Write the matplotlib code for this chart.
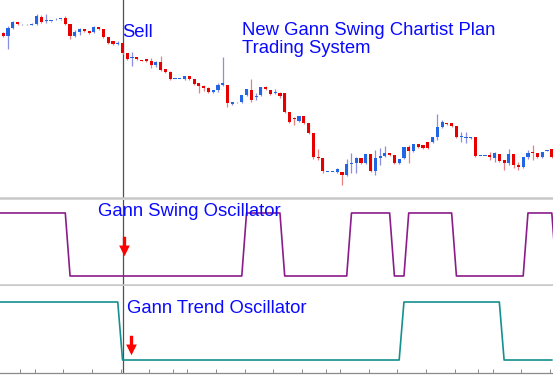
import numpy as np
import matplotlib
matplotlib.use("Agg")
import matplotlib.pyplot as plt
from matplotlib.path import Path

plt.rcParams['font.family'] = ['Liberation Sans', 'DejaVu Sans']

# candle data, one bar per entry
opens = [167, 164, 172, 178, 175.7, 175.7, 175.5, 176, 183.3, 179,
         179, 180.7, 181, 182, 176, 164, 168, 171, 169, 168,
         173, 171, 163, 159, 156.5, 157, 147, 142, 143, 140,
         141, 139.3, 135, 138, 131, 128, 121, 121, 121, 124,
         121, 117, 114, 112, 108, 110, 115, 115, 96, 97.7,
         98, 105, 110, 103.5, 105, 113.5, 110, 107, 107.3, 107,
         88, 82, 79, 84, 77, 67, 43, 42, 28, 28,
         28, 28, 25, 36.5, 37, 42, 37, 46, 29, 42,
         44, 47, 45, 37, 42, 53, 49, 56, 55, 58,
         58, 63, 73, 77, 77, 74, 63, 62.5, 62, 63,
         44, 44, 45, 42, 46, 40, 37, 46, 35, 33,
         43, 48, 47, 43, 49.5, 51]
highs = [168, 174, 179, 178.5, 176, 176, 177, 186, 185, 186,
         179.5, 182.3, 181.5, 184, 176.5, 170, 172, 171.5, 169.5, 174,
         173.5, 171.5, 163.5, 159.5, 159, 157.5, 147.5, 148, 143.5, 140.5,
         141.5, 142, 139.3, 144, 131.5, 129.3, 121.3, 121.3, 124.5, 124.5,
         121.5, 117.5, 115, 112.7, 110.5, 116.7, 143, 115.5, 98.5, 98.3,
         105.5, 111.5, 121, 107, 113.5, 114, 110.5, 110.7, 108.3, 107.5,
         88.5, 83, 84.5, 84.5, 77.5, 67.5, 51, 42.5, 28.3, 28.3,
         32, 28.5, 40.7, 47, 43.3, 42.5, 46.5, 46.5, 50, 51.7,
         54, 47.5, 45.5, 41.5, 53.5, 55, 56.5, 56.5, 55.5, 58.5,
         63.5, 86, 80, 77.5, 77.5, 74.5, 68.3, 68.3, 63.5, 63.5,
         44.3, 44.3, 48.3, 48.3, 46.5, 40.5, 50.7, 46.5, 38.3, 43.5,
         50, 55, 47.5, 48.5, 50.5, 51.5]
lows = [163.3, 151, 171.5, 175.5, 175.4, 175.4, 175, 175.5, 176.7, 176.7,
        178.5, 180, 180.5, 174.7, 160.7, 162.7, 165, 168.5, 166.5, 166.7,
        170.5, 162.5, 155.7, 155.5, 155, 146, 140, 134, 140.5, 139,
        138.5, 132, 133.3, 129, 127.5, 120.5, 120.7, 120.7, 120.5, 120.5,
        115, 107, 109.3, 106.7, 107.5, 108.3, 114.5, 93, 95, 97.3,
        97.5, 104.5, 98, 100, 104.5, 110.5, 105.5, 106, 101.7, 87.5,
        76.7, 75, 78.5, 76.5, 66.5, 41, 40, 27, 27.7, 27.7,
        27.5, 15, 24, 27, 26.7, 36.5, 36.5, 28.5, 25, 35,
        43.3, 44.5, 36.5, 36.5, 41.5, 37.3, 48.5, 52.5, 51.5, 51.5,
        57.5, 60, 72.5, 75.5, 73.5, 62.5, 58.3, 56.7, 61.5, 43.5,
        43.7, 43.7, 40, 38.3, 38.5, 30, 35, 31.7, 30, 32.5,
        40.7, 40, 42.5, 42.5, 49, 42.5]
closes = [164.3, 172, 178, 176, 175.7, 175.7, 176, 184, 178.3, 179.5,
          179, 181, 181, 176, 164, 168, 171, 169, 167, 173,
          171, 163, 157, 156, 157, 147, 141, 142.5, 141, 139.5,
          139, 135, 138, 130, 128, 121, 121, 121, 124, 121,
          116, 114, 112, 108, 110, 115, 117, 97, 98, 98,
          105, 111, 100, 104.5, 113, 111, 106, 107.5, 104, 88,
          78, 81, 84, 77, 67, 43, 42, 29, 28, 28,
          31.5, 25, 36, 37, 42, 37, 46, 29, 42, 44,
          47, 45, 37, 41, 53, 49, 56, 53, 52, 52,
          63, 73, 78, 76, 74, 63, 64, 63, 63, 44,
          44, 44, 43, 47, 39, 37, 46, 35, 33, 43,
          47, 47, 43, 48, 50, 43]

# Gann swing oscillator state per bar (first/last values lie just past the edges)
swing_start = -1
swing = [1, 1, 1, 1, 1, 1, 1, 1, 1, 1, 1, 1, 1, 1, 1,
         0, 0, 0, 0, 0, 0, 0, 0, 0, 0, 0, 0, 0, 0, 0, 0, 0, 0, 0,
         0, 0, 0, 0, 0, 0, 0, 0, 0, 0, 0, 0, 0, 0, 0, 0, 0, 0,
         1, 1, 1, 1, 1, 1, 1, 1,
         0, 0, 0, 0, 0, 0, 0, 0, 0, 0, 0, 0, 0, 0,
         1, 1, 1, 1, 1, 1, 1, 1, 1,
         0, 0, 0,
         1, 1, 1, 1, 1, 1, 1, 1, 1, 1,
         0, 0, 0, 0, 0, 0, 0, 0, 0, 0, 0, 0, 0, 0, 0,
         1, 1, 1, 1, 1, 1,
         0]
# Gann trend oscillator state per bar
trend_start = -1
trend = [1, 1, 1, 1, 1, 1, 1, 1, 1, 1, 1, 1, 1, 1, 1, 1, 1, 1, 1, 1,
         1, 1, 1, 1, 1, 1,
         0, 0, 0, 0, 0, 0, 0, 0, 0, 0, 0, 0, 0, 0, 0, 0, 0, 0, 0, 0,
         0, 0, 0, 0, 0, 0, 0, 0, 0, 0, 0, 0, 0, 0, 0, 0, 0, 0, 0, 0,
         0, 0, 0, 0, 0, 0, 0, 0, 0, 0, 0, 0, 0, 0, 0, 0, 0, 0, 0,
         1, 1, 1, 1, 1, 1, 1, 1, 1, 1, 1, 1, 1, 1, 1, 1, 1, 1, 1, 1, 1,
         0, 0, 0, 0, 0, 0, 0, 0, 0, 0, 0]

sell_bar = 25
tick_bars = [3.6, 6.6, 12.6, 18.6, 24.6, 30.6, 35.6, 38.6, 44.6, 50.6, 56.6,
             62.6, 67.6, 70.6, 76.6, 82.6, 88.6, 94.6, 99.6, 102.6, 108.6, 114.6]

W, H = 553, 375
fig = plt.figure(figsize=(W / 100, H / 100), dpi=100)
fig.patch.set_facecolor('white')


def add_axes(top_px, bottom_px):
    ax = fig.add_axes([0, 1 - bottom_px / H, 1, (bottom_px - top_px) / H])
    ax.set_xlim(-0.69, 115.25)
    for s in ['top', 'left', 'right']:
        ax.spines[s].set_visible(False)
    ax.set_yticks([])
    ax.set_xticks([])
    return ax


ax1 = add_axes(0, 198)
ax2 = add_axes(199.5, 284.5)
ax3 = add_axes(286, 373)

for ax in (ax1, ax2):
    ax.spines['bottom'].set_color('#c8c8c8')
    ax.spines['bottom'].set_linewidth(1.8)
ax3.spines['bottom'].set_color('#8a8a8a')
ax3.spines['bottom'].set_linewidth(0.9)
ax3.set_xticks(tick_bars)
ax3.tick_params(axis='x', direction='in', length=3, width=0.7, color='#8a8a8a',
                labelbottom=False)

# candles
o = np.array(opens)
c = np.array(closes)
hi = np.array(highs)
lo = np.array(lows)
idx = np.arange(len(o))
up = c >= o
body_col = np.where(up, '#2266e6', '#e60000')
wick_col = np.where(up, '#8a8fe0', '#e88080')
ax1.vlines(idx, lo, hi, colors=wick_col, linewidth=0.9, zorder=2)
body_h = np.maximum(np.abs(c - o), 0.8)
ax1.bar(idx, body_h, bottom=np.minimum(o, c), width=0.66, color=body_col,
        edgecolor='none', zorder=3)
ax1.set_ylim(2, 200)

# oscillators
ax2.plot(np.arange(len(swing)) + swing_start, swing, color='#8b1c8b',
         linewidth=1.2, zorder=2)
ax2.set_ylim(-0.135, 1.214)
ax3.plot(np.arange(len(trend)) + trend_start, trend, color='#14908f',
         linewidth=1.2, zorder=2)
ax3.set_ylim(-0.224, 1.276)

for ax in (ax1, ax2, ax3):
    ax.axvline(sell_bar, color='#505050', linewidth=0.9, zorder=1)

# red down arrows
arrow = Path([(-0.17, 1), (0.17, 1), (0.17, 0.1), (0.55, 0.1), (0, -1),
              (-0.55, 0.1), (-0.17, 0.1), (-0.17, 1)], closed=True)
ax2.plot([sell_bar + 0.4], [0.476], marker=arrow, markersize=14, color='#ff0000',
         markeredgewidth=0, zorder=4)
ax3.plot([sell_bar + 1.7], [0.259], marker=arrow, markersize=14, color='#ff0000',
         markeredgewidth=0, zorder=4)

# labels
blue = '#0a0aff'
fs = 13.3
fig.text(122 / W, 1 - 37 / H, 'Sell', color=blue, fontsize=fs, va='baseline')
fig.text(242 / W, 1 - 35 / H, 'New Gann Swing Chartist Plan', color=blue,
         fontsize=fs, va='baseline')
fig.text(242 / W, 1 - 53 / H, 'Trading System', color=blue, fontsize=fs,
         va='baseline')
fig.text(98 / W, 1 - 216 / H, 'Gann Swing Oscillator', color=blue, fontsize=fs,
         va='baseline', zorder=10)
fig.text(127 / W, 1 - 313 / H, 'Gann Trend Oscillator', color=blue, fontsize=fs,
         va='baseline', zorder=10)

fig.savefig('out.png', dpi=100, facecolor='white')
